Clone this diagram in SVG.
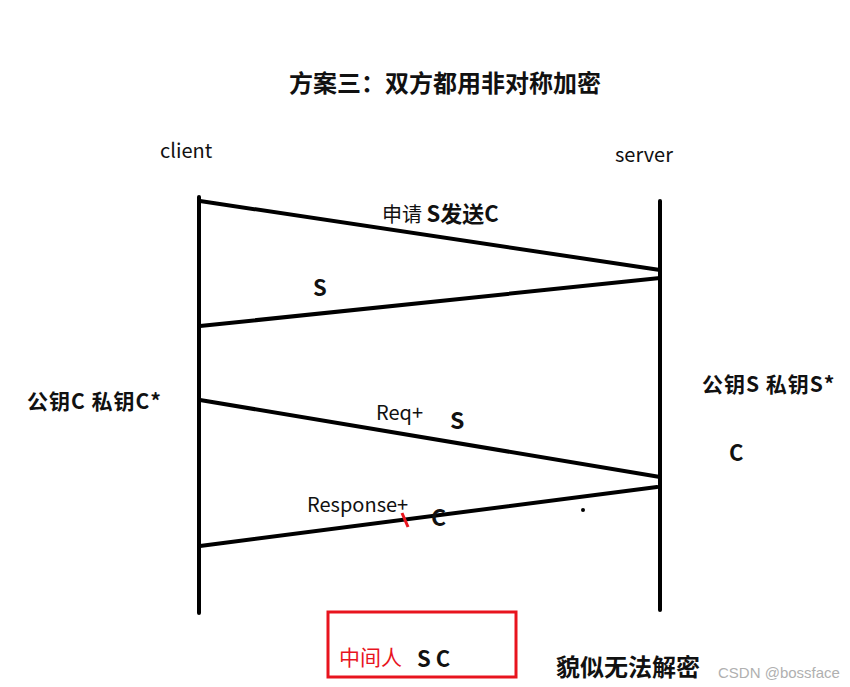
<svg xmlns="http://www.w3.org/2000/svg" width="850" height="687" viewBox="0 0 850 687">
<style>
text{font-family:"Noto Sans CJK SC","Noto Sans",sans-serif;fill:#111}
.b{font-weight:bold}
.ln{stroke:#000;stroke-width:4;stroke-linecap:round;fill:none}
</style>
<rect width="850" height="687" fill="#fff"/>
<text class="b" x="445" y="92" font-size="24" text-anchor="middle">方案三：双方都用非对称加密</text>
<g id="client">
<text x="160" y="158" font-size="20">client</text>
<line class="ln" x1="199" y1="197" x2="199" y2="613"/>
</g>
<g id="server">
<text x="615" y="162" font-size="20">server</text>
<line class="ln" x1="660" y1="201" x2="660" y2="610"/>
</g>
<g id="connectors">
<line class="ln" x1="200" y1="201" x2="660" y2="270"/>
<line class="ln" x1="660" y1="278" x2="200" y2="326"/>
<line class="ln" x1="200" y1="400" x2="660" y2="477"/>
<line class="ln" x1="657" y1="487" x2="200" y2="546"/>
<line x1="402" y1="513" x2="408" y2="527" stroke="#e8141e" stroke-width="3"/>
<circle cx="583" cy="510" r="2" fill="#000"/>
</g>
<g id="labels">
<text x="382" y="222" font-size="20">申请 <tspan class="b" font-size="22">S发送C</tspan></text>
<text class="b" x="313" y="296" font-size="22">S</text>
<text class="b" x="27" y="409" font-size="21" letter-spacing="1">公钥C 私钥C*</text>
<text class="b" x="702" y="392" font-size="21" letter-spacing="1">公钥S 私钥S*</text>
<text class="b" x="729" y="461" font-size="22">C</text>
<text x="376" y="420" font-size="20">Req+</text>
<text class="b" x="450" y="429" font-size="23">S</text>
<text x="307" y="512" font-size="20">Response+</text>
<text class="b" x="431" y="526" font-size="23">C</text>
</g>
<g id="mitm">
<rect x="328" y="612" width="188" height="65" fill="none" stroke="#e8141e" stroke-width="3"/>
<text x="339" y="665" font-size="21" style="fill:#e8141e">中间人</text>
<text class="b" x="417" y="667" font-size="22">S C</text>
</g>
<text class="b" x="556" y="676" font-size="24">貌似无法解密</text>
<text x="718" y="678" font-size="15" style="font-family:'Liberation Sans',sans-serif;fill:#b0b0b0">CSDN @bossface</text>
</svg>
